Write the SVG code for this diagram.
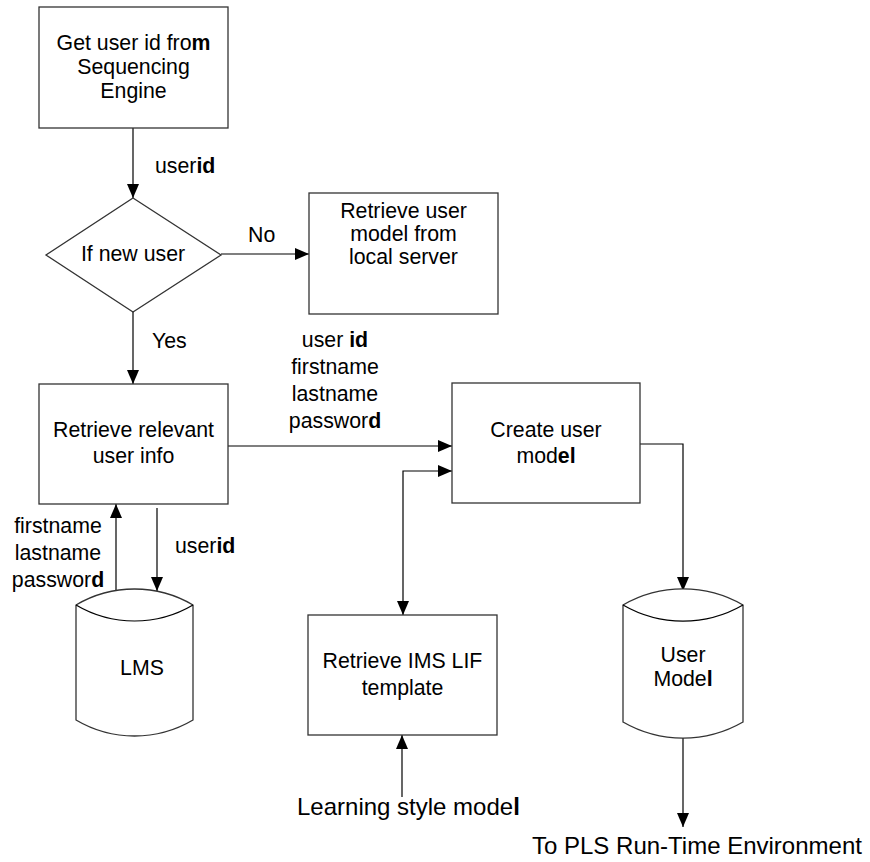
<svg xmlns="http://www.w3.org/2000/svg" width="870" height="862" viewBox="0 0 870 862">
  <style>
    .shape { fill: #ffffff; stroke: #333333; stroke-width: 1.3; }
    .conn { fill: none; stroke: #000000; stroke-width: 1.2; }
    text { font-family: "Liberation Sans", Arial, sans-serif; font-size: 21.3px; fill: #000000; }
    .c { text-anchor: middle; }
    .big { font-size: 24px; }
    .b { font-weight: bold; }
  </style>
  <defs>
    <marker id="arrow" viewBox="0 0 14 12" refX="14" refY="6" markerWidth="14" markerHeight="12"
            orient="auto-start-reverse" markerUnits="userSpaceOnUse">
      <path d="M0,0 L14,6 L0,12 z" fill="#000000"/>
    </marker>
  </defs>

  <rect width="870" height="862" fill="#ffffff"/>

  <!-- connectors -->
  <g id="connectors">
    <path class="conn" d="M133,128 V198" marker-end="url(#arrow)"/>
    <path class="conn" d="M221,254 H309" marker-end="url(#arrow)"/>
    <path class="conn" d="M133,312 V384" marker-end="url(#arrow)"/>
    <path class="conn" d="M228,446 H452" marker-end="url(#arrow)"/>
    <path class="conn" d="M403,615 V471 H452" marker-start="url(#arrow)" marker-end="url(#arrow)"/>
    <path class="conn" d="M640,444 H683 V591" marker-end="url(#arrow)"/>
    <path class="conn" d="M116,590 V504" marker-end="url(#arrow)"/>
    <path class="conn" d="M157,508 V591" marker-end="url(#arrow)"/>
    <path class="conn" d="M402,797 V735" marker-end="url(#arrow)"/>
    <path class="conn" d="M683,738 V827" marker-end="url(#arrow)"/>

    <text x="155" y="173">user<tspan class="b">id</tspan></text>
    <text x="248" y="242">No</text>
    <text x="152" y="348">Yes</text>
    <text class="c" x="335" y="347">user <tspan class="b">id</tspan></text>
    <text class="c" x="335" y="374">firstname</text>
    <text class="c" x="335" y="401">lastname</text>
    <text class="c" x="335" y="428">passwor<tspan class="b">d</tspan></text>
    <text class="c" x="58" y="533">firstname</text>
    <text class="c" x="58" y="560">lastname</text>
    <text class="c" x="58" y="587">passwor<tspan class="b">d</tspan></text>
    <text x="175" y="553">user<tspan class="b">id</tspan></text>
    <text class="big" x="297" y="815">Learning style mode<tspan class="b">l</tspan></text>
    <text class="big" x="532" y="854">To PLS Run-Time Environment</text>
  </g>

  <g id="get-user-id">
    <rect class="shape" x="39" y="7" width="189" height="121"/>
    <text class="c" x="133.5" y="50">Get user id fro<tspan class="b">m</tspan></text>
    <text class="c" x="133.5" y="74">Sequencing</text>
    <text class="c" x="133.5" y="98">Engine</text>
  </g>

  <g id="if-new-user">
    <polygon class="shape" points="133,198 221,255 133,312 46,255"/>
    <text class="c" x="133" y="261">If new user</text>
  </g>

  <g id="retrieve-local">
    <rect class="shape" x="309" y="193" width="189" height="121"/>
    <text class="c" x="403.5" y="218">Retrieve user</text>
    <text class="c" x="403.5" y="241">model from</text>
    <text class="c" x="403.5" y="264">local server</text>
  </g>

  <g id="retrieve-info">
    <rect class="shape" x="39" y="384" width="189" height="120"/>
    <text class="c" x="133.5" y="437">Retrieve relevant</text>
    <text class="c" x="133.5" y="463">user info</text>
  </g>

  <g id="create-model">
    <rect class="shape" x="452" y="383" width="188" height="120"/>
    <text class="c" x="546" y="437">Create user</text>
    <text class="c" x="546" y="463">mod<tspan class="b">el</tspan></text>
  </g>

  <g id="lms">
    <path class="shape" d="M76,605 A115,115 0 0 1 193,605 V720 A115,115 0 0 1 76,720 Z"/>
    <path class="conn" d="M76,605 A115,115 0 0 0 193,605" stroke="#333333"/>
    <text class="c" x="142" y="675">LMS</text>
  </g>

  <g id="ims-template">
    <rect class="shape" x="308" y="615" width="189" height="120"/>
    <text class="c" x="402.5" y="668">Retrieve IMS LIF</text>
    <text class="c" x="402.5" y="695">template</text>
  </g>

  <g id="user-model">
    <path class="shape" d="M623,605 A120,120 0 0 1 743,605 V722 A120,120 0 0 1 623,722 Z"/>
    <path class="conn" d="M623,605 A120,120 0 0 0 743,605" stroke="#333333"/>
    <text class="c" x="683" y="662">User</text>
    <text class="c" x="683" y="686">Mode<tspan class="b">l</tspan></text>
  </g>
</svg>
